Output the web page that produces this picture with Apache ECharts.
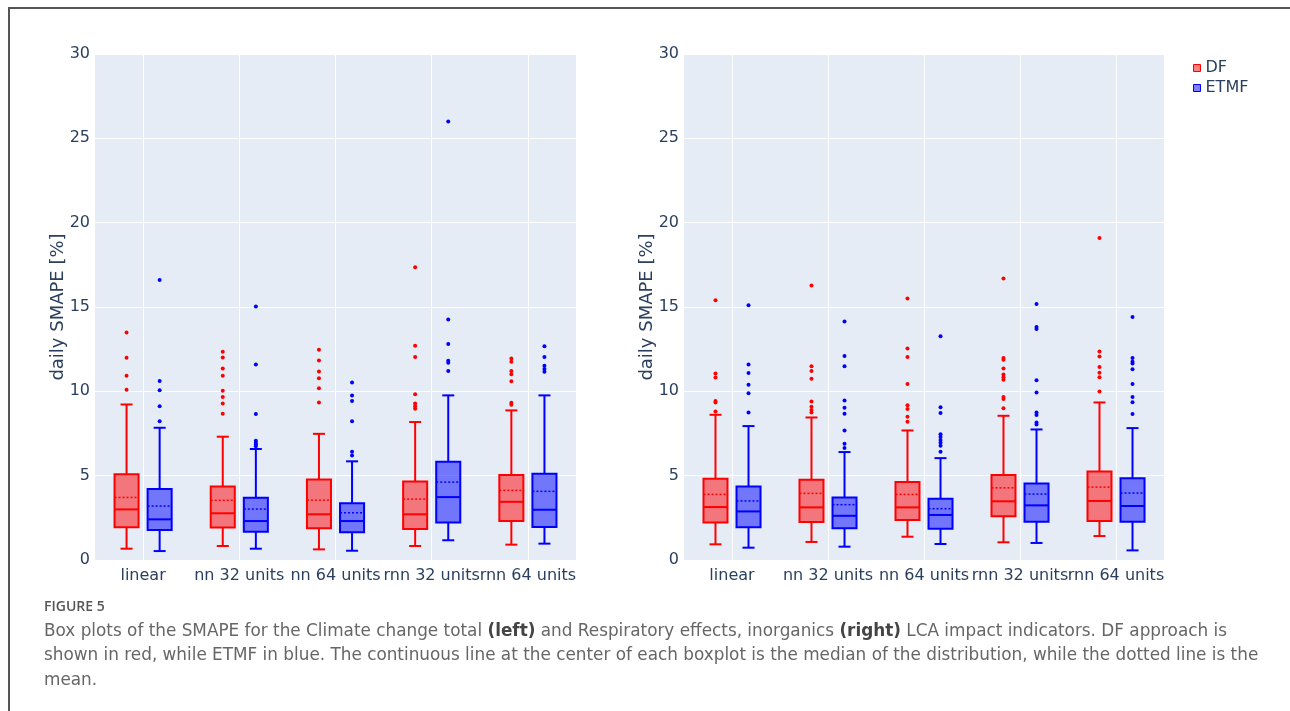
<!DOCTYPE html>
<html>
<head>
<meta charset="utf-8">
<script src="https://cdn.jsdelivr.net/npm/echarts@6/dist/echarts.min.js"></script>
<style>
  html, body { margin: 0; padding: 0; background: #fff; }
  #frame { position: absolute; left: 8px; top: 7px; right: 0; bottom: 0; border-left: 2px solid #555; border-top: 2px solid #555; }
  #chart { position: absolute; left: 0; top: 0; width: 1290px; height: 711px; }
</style>
</head>
<body>
<div id="frame"></div>
<div id="chart"></div>
<script>
const categories = ['linear', 'nn 32 units', 'nn 64 units', 'rnn 32 units', 'rnn 64 units'];
const yTicks = [0, 5, 10, 15, 20, 25, 30];
const seriesNames = ['DF', 'ETMF'];

// [lower whisker, q1, median, q3, upper whisker, mean]
const leftDF = [
  [0.67, 1.94, 3.00, 5.09, 9.22, 3.71],
  [0.83, 1.92, 2.77, 4.36, 7.31, 3.54],
  [0.63, 1.88, 2.71, 4.78, 7.48, 3.55],
  [0.83, 1.84, 2.71, 4.66, 8.18, 3.61],
  [0.91, 2.31, 3.45, 5.04, 8.87, 4.13]
];
const leftETMF = [
  [0.53, 1.78, 2.41, 4.21, 7.84, 3.20],
  [0.67, 1.68, 2.31, 3.69, 6.58, 3.02],
  [0.55, 1.64, 2.31, 3.36, 5.85, 2.80],
  [1.17, 2.23, 3.73, 5.82, 9.76, 4.62],
  [0.97, 1.95, 2.98, 5.11, 9.76, 4.07]
];
const leftDFOutliers = [
  [13.49, 11.99, 10.92, 10.09],
  [12.34, 12.0, 11.36, 10.92, 10.03, 9.66, 9.28, 8.67],
  [12.46, 11.83, 11.18, 10.78, 10.19, 9.34],
  [17.36, 12.7, 12.03, 9.83, 9.28, 9.12, 8.96],
  [11.95, 11.75, 11.2, 11.02, 10.6, 9.32, 9.2]
];
const leftETMFOutliers = [
  [16.6, 10.62, 10.07, 9.12, 8.22],
  [15.03, 11.59, 8.65, 7.07, 6.95, 6.85, 6.75],
  [10.53, 9.76, 9.42, 8.23, 6.42, 6.2],
  [26.0, 14.26, 12.81, 11.81, 11.69, 11.21],
  [12.68, 12.03, 11.51, 11.33, 11.16]
];

const rightDF = [
  [0.93, 2.23, 3.14, 4.82, 8.61, 3.89],
  [1.07, 2.25, 3.12, 4.76, 8.45, 3.95],
  [1.38, 2.37, 3.12, 4.62, 7.68, 3.89],
  [1.05, 2.59, 3.48, 5.04, 8.55, 4.28],
  [1.42, 2.31, 3.50, 5.25, 9.34, 4.32]
];
const rightETMF = [
  [0.73, 1.94, 2.88, 4.36, 7.94, 3.50],
  [0.79, 1.88, 2.62, 3.71, 6.40, 3.28],
  [0.95, 1.85, 2.67, 3.63, 6.04, 3.04],
  [1.01, 2.27, 3.24, 4.54, 7.74, 3.91],
  [0.57, 2.27, 3.20, 4.84, 7.82, 3.97]
];
const rightDFOutliers = [
  [15.4, 11.06, 10.82, 9.42, 9.34, 8.81],
  [16.27, 11.49, 11.21, 10.74, 9.4, 9.08, 8.89, 8.75],
  [15.5, 12.54, 12.04, 10.44, 9.18, 8.95, 8.49, 8.19],
  [16.69, 11.97, 11.87, 11.36, 11.0, 10.84, 10.68, 9.67, 9.54, 9.0],
  [19.09, 12.36, 12.07, 11.45, 11.1, 10.84, 9.99]
];
const rightETMFOutliers = [
  [15.1, 11.59, 11.08, 10.39, 9.88, 8.75],
  [14.14, 12.1, 11.49, 9.46, 9.02, 8.67, 7.68, 6.89, 6.64],
  [13.27, 9.06, 8.71, 7.45, 7.29, 7.11, 6.95, 6.77, 6.42],
  [15.18, 13.82, 13.7, 10.66, 9.93, 8.75, 8.59, 8.15, 8.04],
  [14.41, 11.97, 11.75, 11.65, 11.31, 10.44, 9.67, 9.36, 8.65]
];

const captionLines = [
  ['Box plots of the SMAPE for the Climate change total ', '(left)', ' and Respiratory effects, inorganics ', '(right)', ' LCA impact indicators. DF approach is'],
  ['shown in red, while ETMF in blue. The continuous line at the center of each boxplot is the median of the distribution, while the dotted line is the'],
  ['mean.']
];

const STYLE = {
  DF:   { line: '#ff0000', fill: 'rgba(255,0,0,0.5)', side: -1 },
  ETMF: { line: '#0000ff', fill: 'rgba(0,0,255,0.5)', side: 1 }
};
const OFFSET_FRAC = 0.172;
const BOX_FRAC = 0.25;

function boxSeries(name, stats, gi) {
  const st = STYLE[name];
  return {
    type: 'custom', name: name, xAxisIndex: gi, yAxisIndex: gi,
    itemStyle: { color: st.fill, borderColor: st.line },
    data: stats.map((s, i) => [i].concat(s)),
    encode: { x: 0, y: [1, 2, 3, 4, 5, 6] },
    z: 3,
    renderItem: function (params, api) {
      const ci = api.value(0);
      const band = api.size([1, 0])[0];
      const cx = api.coord([ci, 0])[0] + st.side * band * OFFSET_FRAC;
      const hw = band * BOX_FRAC / 2;
      const cw = hw / 2;
      const y = v => api.coord([ci, v])[1];
      const lw = y(api.value(1)), q1 = y(api.value(2)), med = y(api.value(3)),
            q3 = y(api.value(4)), uw = y(api.value(5)), mean = y(api.value(6));
      const ls = { stroke: st.line, lineWidth: 2, fill: null };
      return {
        type: 'group',
        children: [
          { type: 'line', shape: { x1: cx, y1: q3, x2: cx, y2: uw }, style: ls },
          { type: 'line', shape: { x1: cx, y1: q1, x2: cx, y2: lw }, style: ls },
          { type: 'line', shape: { x1: cx - cw, y1: uw, x2: cx + cw, y2: uw }, style: ls },
          { type: 'line', shape: { x1: cx - cw, y1: lw, x2: cx + cw, y2: lw }, style: ls },
          { type: 'rect', shape: { x: cx - hw, y: q3, width: hw * 2, height: q1 - q3 },
            style: { fill: st.fill, stroke: st.line, lineWidth: 2 } },
          { type: 'line', shape: { x1: cx - hw, y1: med, x2: cx + hw, y2: med }, style: ls },
          { type: 'line', shape: { x1: cx - hw, y1: mean, x2: cx + hw, y2: mean },
            style: { stroke: st.line, lineWidth: 1.5, lineDash: [2, 2], fill: null } }
        ]
      };
    }
  };
}

function outlierSeries(name, outs, gi) {
  const st = STYLE[name];
  const data = [];
  outs.forEach((arr, i) => arr.forEach(v => data.push([i, v])));
  return {
    type: 'custom', name: name, xAxisIndex: gi, yAxisIndex: gi,
    itemStyle: { color: st.fill, borderColor: st.line },
    data: data, encode: { x: 0, y: 1 }, z: 4,
    renderItem: function (params, api) {
      const ci = api.value(0);
      const band = api.size([1, 0])[0];
      const p = api.coord([ci, api.value(1)]);
      return { type: 'circle', shape: { cx: p[0] + st.side * band * OFFSET_FRAC, cy: p[1], r: 2 },
        style: { fill: st.line } };
    }
  };
}

// vertical grid lines at category centres (through the category axis)
function gridLineSeries(gi) {
  return {
    type: 'line', name: '_grid' + gi, xAxisIndex: gi, yAxisIndex: gi, data: [], z: 1,
    silent: true,
    markLine: {
      silent: true, symbol: 'none', animation: false, label: { show: false },
      lineStyle: { color: '#ffffff', width: 1, type: 'solid' },
      data: categories.map(c => ({ xAxis: c }))
    }
  };
}

const AXIS_FONT = 'DejaVu Sans';
const TEXT_COLOR = '#2a3f5f';

function xAxis(gi) {
  return {
    type: 'category', gridIndex: gi, data: categories,
    axisLine: { show: false }, axisTick: { show: false },
    axisLabel: { interval: 0, color: TEXT_COLOR, fontSize: 16, fontFamily: AXIS_FONT, margin: 8 },
    splitLine: { show: false }
  };
}
function yAxis(gi) {
  return {
    type: 'value', gridIndex: gi, min: yTicks[0], max: yTicks[yTicks.length - 1],
    interval: yTicks[1] - yTicks[0],
    name: 'daily SMAPE [%]', nameLocation: 'middle', nameGap: 28, nameMoveOverlap: false,
    nameTextStyle: { color: TEXT_COLOR, fontSize: 18, fontFamily: AXIS_FONT },
    axisLine: { show: false }, axisTick: { show: false },
    axisLabel: { color: TEXT_COLOR, fontSize: 16, fontFamily: AXIS_FONT, margin: 5 },
    splitLine: { lineStyle: { color: '#ffffff', width: 1 } }
  };
}

const captionText = captionLines.map(parts =>
  parts.map(p => (p === '(left)' || p === '(right)') ? '{b|' + p + '}' : '{n|' + p + '}').join('')
).join('\n');

const CAP_FONT = 16.85;
const CAP_FAMILY = 'DejaVu Sans';
const chart = echarts.init(document.getElementById('chart'), null, { renderer: 'canvas' });
chart.setOption({
  animation: false,
  backgroundColor: 'transparent',
  title: [
    { text: 'FIGURE 5', left: 39, top: 595,
      textStyle: { fontFamily: 'Open Sans', fontSize: 14, fontWeight: 600, color: '#555' } },
    { text: captionText, left: 39, top: 614,
      textStyle: { fontWeight: 'normal', rich: {
        n: { fontFamily: CAP_FAMILY, fontSize: CAP_FONT, fontWeight: 'normal', color: '#666', lineHeight: 24.5 },
        b: { fontFamily: CAP_FAMILY, fontSize: CAP_FONT, fontWeight: 'bold', color: '#444', lineHeight: 24.5 }
      } } }
  ],
  legend: {
    orient: 'vertical', left: 1188, top: 55, itemGap: 4, itemWidth: 7, itemHeight: 7,
    textStyle: { color: TEXT_COLOR, fontSize: 16, fontFamily: AXIS_FONT },
    data: seriesNames.map(n => ({ name: n, icon: 'rect',
      itemStyle: { color: STYLE[n].fill, borderColor: STYLE[n].line, borderWidth: 1 } }))
  },
  grid: [
    { left: 95, top: 54, width: 481, height: 506, show: true, backgroundColor: '#e5ecf6', borderWidth: 0 },
    { left: 684, top: 54, width: 480, height: 506, show: true, backgroundColor: '#e5ecf6', borderWidth: 0 }
  ],
  xAxis: [xAxis(0), xAxis(1)],
  yAxis: [yAxis(0), yAxis(1)],
  series: [
    gridLineSeries(0), gridLineSeries(1),
    boxSeries('DF', leftDF, 0), boxSeries('ETMF', leftETMF, 0),
    outlierSeries('DF', leftDFOutliers, 0), outlierSeries('ETMF', leftETMFOutliers, 0),
    boxSeries('DF', rightDF, 1), boxSeries('ETMF', rightETMF, 1),
    outlierSeries('DF', rightDFOutliers, 1), outlierSeries('ETMF', rightETMFOutliers, 1)
  ]
});
</script>
</body>
</html>
